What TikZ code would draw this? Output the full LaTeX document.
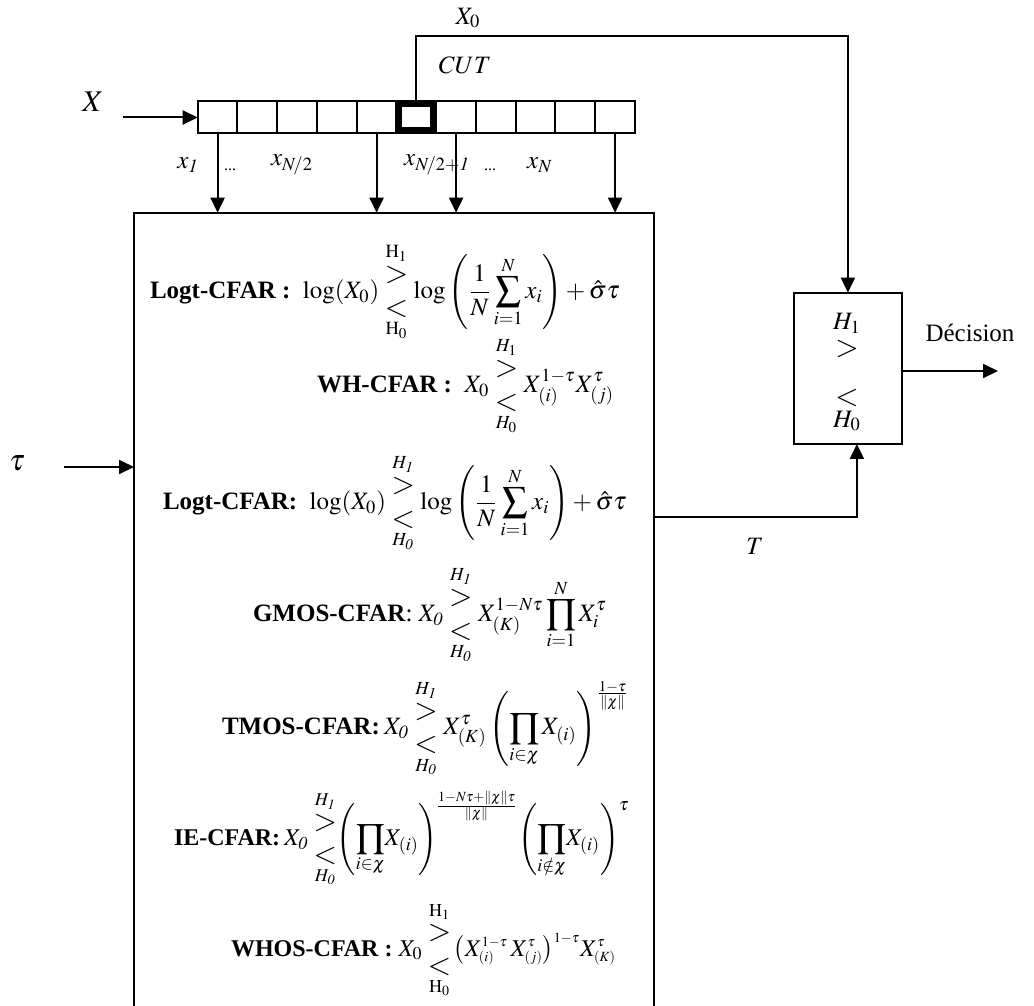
\documentclass[tikz,border=0pt]{standalone}
\usepackage{amsmath}
\usepackage{mathptmx}
\usepackage{fontspec}
\setmainfont{Liberation Serif}
\usetikzlibrary{arrows.meta}
\newcommand{\cmpr}[2]{\mathrel{\vcenter{\offinterlineskip\halign{\hfil##\hfil\cr$\scriptstyle #1$\cr\noalign{\kern2.5pt}{\fontsize{15}{15}\selectfont$>$}\cr\noalign{\kern8pt}{\fontsize{15}{15}\selectfont$<$}\cr\noalign{\kern2.5pt}$\scriptstyle #2$\cr}}}}
\begin{document}
\begin{tikzpicture}[x=0.5pt,y=-0.5pt,
  line width=1pt,
  arr/.style={-{Triangle[length=7.5pt,width=7pt]}},
  cell/.style={draw,minimum width=19.875pt,minimum height=16pt,inner sep=0pt,outer sep=0pt},
  cutcell/.style={draw,line width=3pt,minimum width=16.9pt,minimum height=13pt,inner sep=0pt,outer sep=1.5pt},
  lbl/.style={font=\fontsize{12.5}{15}\selectfont,inner sep=1pt},
  rel/.style={font=\fontsize{15}{15}\selectfont,inner sep=1pt},
  big/.style={font=\fontsize{15}{18}\selectfont,inner sep=1pt},
  frm/.style={font=\fontsize{12.5}{15}\selectfont,anchor=west,inner sep=0pt},
  frms/.style={font=\fontsize{12}{14}\selectfont,anchor=west,inner sep=0pt},
  box/.style={draw,inner sep=0pt,outer sep=0pt}]
\useasboundingbox (0,0) rectangle (1034,1006);
% shift register
\foreach \i in {1,...,11}
  \node[cell] (c\i) at ({217.6+39.75*(\i-1)},117.5) {};
\node[cutcell] (cut) at (c6) {};
% input X
\node[big] (X) at (93,102) {$X$};
\coordinate (xin) at (123,117.5);
\draw[arr] (xin) -- (c1.west);
% X0 and CUT
\node[lbl] (X0) at (468,18) {$X_{\mathrm{0}}$};
\node[lbl] (CUT) at (465,65) {$CUT$};
\coordinate (x0top) at (0,35.7);
% main box
\coordinate (mtl) at (134,212.7);
\coordinate (mtr) at (654,212.7);
\coordinate (mbl) at (134,1008);
\coordinate (mbr) at (654,1008);
\draw (mbl) -- (mtl) -- (mtr) -- (mbr);
% decision box
\node[box,minimum width=53.85pt,minimum height=75.65pt] (dec) at (847.9,368.3) {};
\node[lbl] (dh1) at (847,323) {$H_1$};
\node[rel] (dgt) at (847,349) {$>$};
\node[rel] (dlt) at (847,398) {$<$};
\node[lbl] (dh0) at (847,421) {$H_0$};
\draw[arr] (c6.north) -- (c6.north |- x0top) -| (dec.north);
% taps
\foreach \i in {1,5,7,11}
  \draw[arr] (c\i.south) -- (c\i.south |- mtl);
\node[lbl] (l1) at (188,165) {$x_{\mathit{1}}$};
\node[font=\fontsize{8}{9}\selectfont] (d1) at (230,170) {...};
\node[lbl] (l2) at (292,165) {$x_{N\!/2}$};
\node[lbl] (l3) at (437,165) {$x_{N\!/2+\mathit{1}}$};
\node[font=\fontsize{8}{9}\selectfont] (d2) at (490,170) {...};
\node[lbl] (l4) at (540,165) {$x_N$};
% tau
\node[big] (tau) at (17,463) {$\tau$};
\coordinate (tauin) at (64,467);
\draw[arr] (tauin) -- (tauin -| mtl);
% T
\coordinate (tstart) at (654,516.7);
\draw[arr] (tstart) -| ([xshift=4.5pt]dec.south);
\node[lbl] (T) at (755,546.7) {$T$};
% decision output
\coordinate (decout) at (998,371);
\draw[arr] (dec.east |- decout) -- (decout);
\node[lbl] (dec lbl) at (970,333) {Décision};
% formulas
\node[frm] (f1) at (149,292) {\textbf{Logt-CFAR :}\ \ $\displaystyle \log(X_{\mathrm{0}})\cmpr{\mathrm{H}_1}{\mathrm{H}_0}\log\left(\frac{1}{N}\sum_{i=1}^{N}x_i\right)+\hat{\sigma}\tau$};
\node[frm] (f2) at (316,386) {\textbf{WH-CFAR :}\ \ $\displaystyle X_{\mathrm{0}}\cmpr{H_1}{H_0}X_{(i)}^{1-\tau}X_{(j)}^{\tau}$};
\node[frm] (f3) at (162,503) {\textbf{Logt-CFAR:}\ \ $\displaystyle \log(X_{\mathrm{0}})\cmpr{H_{\mathit{1}}}{H_{\mathit{0}}}\log\left(\frac{1}{N}\sum_{i=1}^{N}x_i\right)+\hat{\sigma}\tau$};
\node[frm] (f4) at (252,615) {\textbf{GMOS-CFAR}:\ $\displaystyle X_{\mathit{0}}\cmpr{H_{\mathit{1}}}{H_{\mathit{0}}}X_{(K)}^{1-N\tau}\prod_{i=1}^{N}X_i^{\tau}$};
\node[frm] (f5) at (221,728) {\textbf{TMOS-CFAR:}\,$\displaystyle X_{\mathit{0}}\cmpr{H_{\mathit{1}}}{H_{\mathit{0}}}X_{(K)}^{\tau}\left(\prod_{i\in\chi}X_{(i)}\right)^{\frac{1-\tau}{\|\chi\|}}$};
\node[frms] (f6) at (173,838) {\textbf{IE-CFAR:}\,$\displaystyle X_{\mathit{0}}\cmpr{H_{\mathit{1}}}{H_{\mathit{0}}}\!\!\left(\prod_{i\in\chi}\!X_{(i)}\right)^{\!\frac{1-N\tau+\|\chi\|\tau}{\|\chi\|}}\!\left(\prod_{i\notin\chi}\!X_{(i)}\right)^{\tau}$};
\node[frms] (f7) at (230,950) {\textbf{WHOS-CFAR :}\ $\displaystyle X_{\mathrm{0}}\cmpr{\mathrm{H}_1}{\mathrm{H}_0}\!\bigl(X_{\scriptscriptstyle(i)}^{\scriptscriptstyle 1-\tau}\,X_{\scriptscriptstyle(j)}^{\scriptscriptstyle\tau}\bigr)^{\scriptscriptstyle 1-\tau}X_{\scriptscriptstyle(K)}^{\scriptscriptstyle\tau}$};
\end{tikzpicture}
\end{document}
